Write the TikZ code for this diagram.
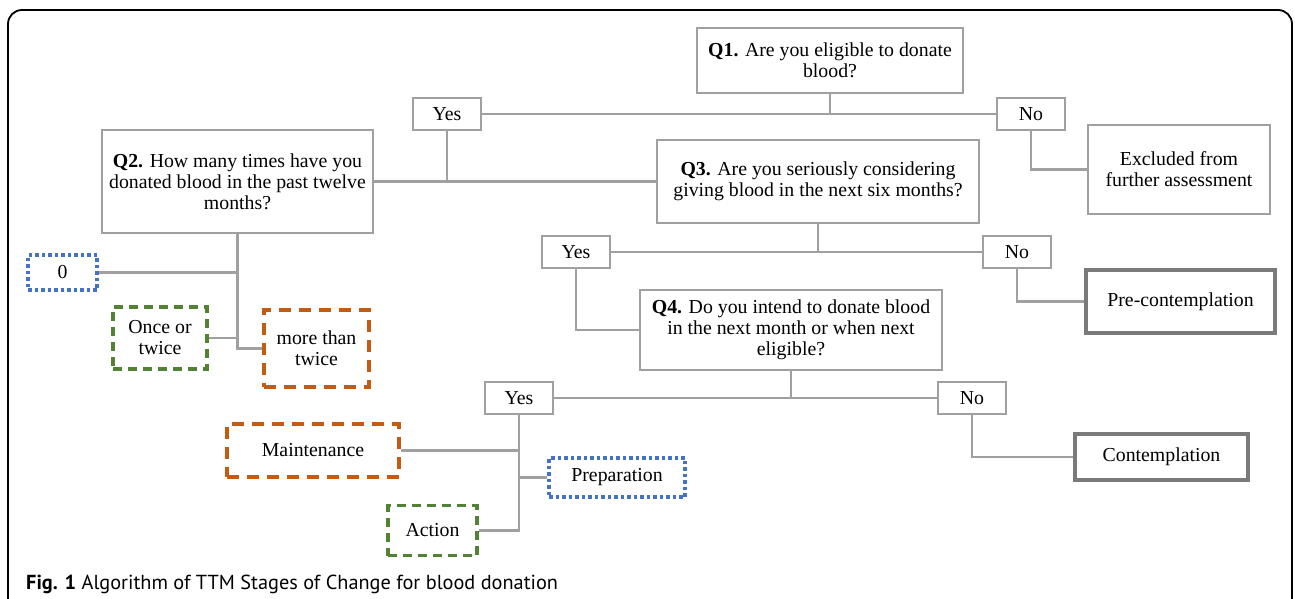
\documentclass[tikz,border=0pt]{standalone}
\usepackage{fontspec}
\setmainfont{Liberation Serif}
\newfontfamily\capfont{PT Sans}
\usetikzlibrary{positioning}
\definecolor{boxgray}{HTML}{A0A0A0}
\definecolor{stagegray}{HTML}{7A7A7A}
\definecolor{dotblue}{HTML}{4472C4}
\definecolor{dashorange}{HTML}{C55A11}
\definecolor{dashgreen}{HTML}{548235}
\tikzset{
  main node/.style={rectangle,draw=boxgray,line width=2.5pt,align=center,inner sep=0pt},
  ans node/.style={main node,minimum width=68pt,minimum height=32pt},
  stage node/.style={main node,draw=stagegray,line width=4.5pt},
  blue node/.style={main node,draw=dotblue,line width=3.5pt,dash pattern=on 3.5pt off 3pt},
  orange node/.style={main node,draw=dashorange,line width=3.5pt,dash pattern=on 12pt off 8pt},
  green node/.style={main node,draw=dashgreen,line width=3.5pt,dash pattern=on 9pt off 6pt},
  link/.style={draw=boxgray,line width=2.5pt}
}
\begin{document}
\begin{tikzpicture}[x=1pt,y=-1pt,every node/.style={font=\fontsize{19.8}{21}\selectfont}]
\useasboundingbox (0,0) rectangle (1295,599);
% frame
\draw[line width=1.8pt,rounded corners=14pt] (8,620) -- (8,10) -- (1292,10) -- (1292,620);

% questions
\node[main node,minimum width=266pt,minimum height=65pt] (q1) at (830,60.5) {\textbf{Q1.} Are you eligible to donate\\blood?};
\node[main node,minimum width=271pt,minimum height=103pt] (q2) at (237.5,181.5) {\textbf{Q2.} How many times have you\\donated blood in the past twelve\\months?};
\node[main node,minimum width=322pt,minimum height=83pt] (q3) at (818,181.5) {\textbf{Q3.} Are you seriously considering\\giving blood in the next six months?};
\node[main node,minimum width=302pt,minimum height=80pt] (q4) at (791,330) {\textbf{Q4.} Do you intend to donate blood\\in the next month or when next\\eligible?};

% answers
\node[ans node] (yes1) at (447,114) {Yes};
\node[ans node] (no1) at (1031,114) {No};
\node[ans node] (yes2) at (576,252) {Yes};
\node[ans node] (no2) at (1017,252) {No};
\node[ans node] (yes3) at (519,398) {Yes};
\node[ans node] (no3) at (972,398) {No};

% outcomes
\node[main node,minimum width=182pt,minimum height=89pt] (excl) at (1179,169.5) {Excluded from\\further assessment};
\node[stage node,minimum width=189pt,minimum height=63pt] (pre) at (1180.5,301.5) {Pre-contemplation};
\node[stage node,minimum width=173pt,minimum height=46pt] (cont) at (1161.5,457) {Contemplation};
\node[blue node,minimum width=69pt,minimum height=35pt] (zero) at (62.5,272.5) {0};
\node[green node,minimum width=94pt,minimum height=62pt] (once) at (160,338) {Once or\\twice};
\node[orange node,minimum width=105pt,minimum height=77pt] (more) at (316.5,348.5) {more than\\twice};
\node[orange node,minimum width=172pt,minimum height=53pt] (maint) at (313,450.5) {Maintenance};
\node[blue node,minimum width=136pt,minimum height=39pt] (prep) at (617,477.5) {Preparation};
\node[green node,minimum width=89pt,minimum height=50pt] (act) at (432.5,530.5) {Action};

% connectors
\path[link]
  (yes1.east) -- (no1.west)
  (q1.south) -- (q1.south |- yes1.east)
  (q2.east) -- (q3.west)
  (yes1.south) -- (yes1.south |- q2.east)
  (no1.south) |- (excl.west)
  (yes2.east) -- (no2.west)
  (q3.south) -- (q3.south |- yes2.east)
  (no2.south) |- (pre.west)
  (yes2.south) |- (q4.west)
  (yes3.east) -- (no3.west)
  (q4.south) -- (q4.south |- yes3.east)
  (no3.south) |- (cont.west)
  (yes3.south) |- (act.east)
  (maint.east) -- (maint.east -| yes3.south)
  (prep.west) -- (prep.west -| yes3.south)
  (q2.south) |- (more.west)
  (zero.east) -- (zero.east -| q2.south)
  (once.east) -- (once.east -| q2.south);

% caption
\node[anchor=base west,inner sep=0pt,font=\capfont\fontsize{20.3}{24}\selectfont] (cap) at (26,589) {\textbf{Fig. 1} Algorithm of TTM Stages of Change for blood donation};
\end{tikzpicture}
\end{document}
